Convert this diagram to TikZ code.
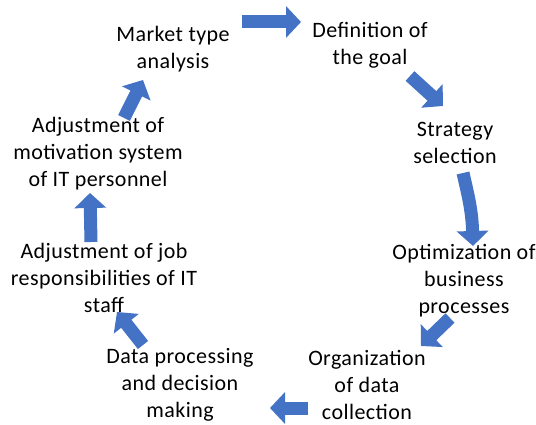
\documentclass[tikz,border=0pt]{standalone}
\usepackage{fontspec}
\setmainfont{Carlito}[LetterSpace=2]
\usetikzlibrary{arrows.meta}
\definecolor{arrowblue}{HTML}{4472C4}
\tikzset{
  lbl/.style={align=center, inner sep=0pt, font=\fontsize{22}{27}\selectfont},
  blk/.style={draw=arrowblue, line width=13pt, -{Triangle[length=15pt,width=31pt]}},
}
\begin{document}
\begin{tikzpicture}[x=1pt,y=-1pt]
\useasboundingbox (0,0) rectangle (536,425);
\node[lbl] (market) at (173,49) {Market type\\analysis};
\node[lbl] (goal) at (370,45) {Definition of\\the goal};
\node[lbl] (strategy) at (455,143) {Strategy\\selection};
\node[lbl] (optim) at (464,281) {Optimization of\\business\\processes};
\node[lbl] (org) at (367,385) {Organization\\of data\\collection};
\node[lbl] (data) at (180,385) {Data processing\\and decision\\making};
\node[lbl] (job) at (104,278) {Adjustment of job\\responsibilities of IT\\staff};
\node[lbl] (motiv) at (98,154) {Adjustment of\\motivation system\\of IT personnel};

\coordinate (a1s) at (242,22); \coordinate (a1e) at (301,22);
\coordinate (a2s) at (410,76); \coordinate (a2e) at (443,106);
\coordinate (a3s) at (463,173); \coordinate (a3e) at (473,246);
\coordinate (a4s) at (450,318); \coordinate (a4e) at (421,346);
\coordinate (a5s) at (308,408); \coordinate (a5e) at (270,408);
\coordinate (a6s) at (143,345); \coordinate (a6e) at (117,312);
\coordinate (a7s) at (91,242); \coordinate (a7e) at (90,193);
\coordinate (a8s) at (124,118); \coordinate (a8e) at (143,80);

\draw[blk] (a1s) -- (a1e);
\draw[blk] (a2s) -- (a2e);
\draw[blk] (a3s) .. controls (468,195) and (472,210) .. (a3e);
\draw[blk] (a4s) -- (a4e);
\draw[blk] (a5s) -- (a5e);
\draw[blk] (a6s) -- (a6e);
\draw[blk] (a7s) -- (a7e);
\draw[blk] (a8s) -- (a8e);
\end{tikzpicture}
\end{document}
